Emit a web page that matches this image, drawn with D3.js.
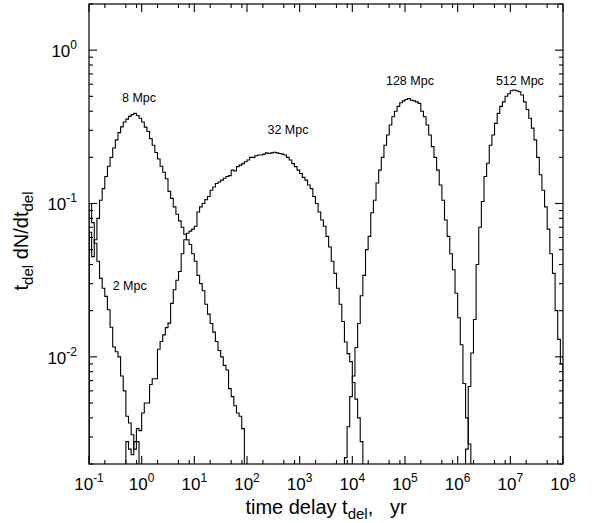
<!DOCTYPE html>
<html><head><meta charset="utf-8">
<script src="https://cdn.jsdelivr.net/npm/d3@7/dist/d3.min.js"></script>
<style>
body{margin:0;background:#fff}
svg{display:block}
text{font-family:"Liberation Sans",Arial,Helvetica,sans-serif;fill:#000}
</style>
</head><body>
<svg id="chart" width="597" height="523"></svg>
<script>
// ---- data ----
const BIN_DEX = 0.05; // histogram bin width in log10(t)
const seriesNames = ["2 Mpc", "8 Mpc", "32 Mpc", "128 Mpc", "512 Mpc"];
const seriesStartLog = [-1.0, -1.0, -0.3, 3.85, 6.15];
const vals2Mpc = [0.1, 0.075, 0.055, 0.042, 0.0325, 0.028, 0.0248, 0.0203, 0.0156, 0.0116,
  0.0108, 0.01, 0.0075, 0.006, 0.0041, 0.0037, 0.0031, 0.0025, 0.0028];
const vals8Mpc = [0.065, 0.045, 0.058, 0.08, 0.105, 0.125, 0.15, 0.175, 0.2, 0.23,
  0.26, 0.29, 0.316, 0.34, 0.355, 0.37, 0.38, 0.387, 0.375, 0.36,
  0.34, 0.315, 0.295, 0.265, 0.24, 0.215, 0.195, 0.175, 0.16, 0.145,
  0.12, 0.108, 0.095, 0.085, 0.077, 0.07, 0.063, 0.058, 0.054, 0.047,
  0.042, 0.034, 0.03, 0.027, 0.022, 0.019, 0.0165, 0.0145, 0.0126, 0.011,
  0.01, 0.0088, 0.0082, 0.0062, 0.0055, 0.0048, 0.0043, 0.0041, 0.0034];
const vals32Mpc = [0.0028, 0.0025, 0.0023, 0.0028, 0.0034, 0.0033, 0.0043, 0.005, 0.005, 0.0066,
  0.0072, 0.0072, 0.0112, 0.0126, 0.0139, 0.0155, 0.0166, 0.0223, 0.0274, 0.0316,
  0.036, 0.047, 0.058, 0.064, 0.066, 0.068, 0.071, 0.088, 0.095, 0.1,
  0.106, 0.111, 0.122, 0.128, 0.135, 0.138, 0.142, 0.146, 0.15, 0.152,
  0.165, 0.163, 0.174, 0.178, 0.182, 0.187, 0.192, 0.2, 0.2, 0.205,
  0.207, 0.207, 0.21, 0.214, 0.212, 0.214, 0.216, 0.214, 0.212, 0.21,
  0.207, 0.2, 0.192, 0.182, 0.174, 0.165, 0.157, 0.148, 0.142, 0.132,
  0.125, 0.111, 0.1, 0.088, 0.078, 0.071, 0.061, 0.052, 0.042, 0.035,
  0.028, 0.022, 0.017, 0.0125, 0.0105, 0.0093, 0.0068, 0.0053, 0.004, 0.0028];
const vals128Mpc = [0.0022, 0.0035, 0.0055, 0.0075, 0.0115, 0.0165, 0.025, 0.034, 0.05, 0.061,
  0.087, 0.105, 0.136, 0.165, 0.2, 0.24, 0.28, 0.325, 0.368, 0.4,
  0.43, 0.454, 0.467, 0.477, 0.484, 0.472, 0.467, 0.46, 0.45, 0.4,
  0.368, 0.325, 0.28, 0.235, 0.2, 0.165, 0.132, 0.105, 0.078, 0.061,
  0.047, 0.037, 0.026, 0.018, 0.012, 0.0067, 0.004, 0.0027];
const vals512Mpc = [0.0025, 0.0064, 0.0106, 0.0175, 0.04, 0.07, 0.103, 0.15, 0.183, 0.24,
  0.28, 0.333, 0.387, 0.43, 0.46, 0.5, 0.52, 0.543, 0.55, 0.543,
  0.535, 0.51, 0.46, 0.41, 0.36, 0.31, 0.26, 0.2, 0.154, 0.122,
  0.095, 0.068, 0.047, 0.035, 0.02, 0.013, 0.009];
const seriesValues = [vals2Mpc, vals8Mpc, vals32Mpc, vals128Mpc, vals512Mpc];
// label anchors in data units [t, value]
const labelAnchors = [[0.593, 0.0273], [0.89, 0.46], [600, 0.284], [1.24e5, 0.591], [1.52e7, 0.591]];
const xTickExps = [-1, 0, 1, 2, 3, 4, 5, 6, 7, 8];
const yTickExps = [-2, -1, 0];
const xMinorMult = [2, 5, 8];
const yMinorMult = [2, 3, 4, 5, 6, 7, 8, 9];
const xDomain = [0.1, 1e8];
const yDomain = [0.002, 2];

// ---- layout ----
const L = 89, R = 563, T = 4, B = 464;
const svg = d3.select("#chart");
const x = d3.scaleLog().domain(xDomain).range([L, R]);
const y = d3.scaleLog().domain(yDomain).range([B, T]);

svg.append("defs").append("clipPath").attr("id", "plotclip")
  .append("rect").attr("x", L).attr("y", T).attr("width", R - L).attr("height", B - T);

// histogram step lines
const line = d3.line().x(d => d[0]).y(d => d[1]);
const gData = svg.append("g").attr("clip-path", "url(#plotclip)");
seriesValues.forEach((vals, si) => {
  const s = seriesStartLog[si];
  const pts = [[x(10 ** s), y(yDomain[0])]];
  vals.forEach((v, i) => {
    const vy = y(Math.max(v, yDomain[0]));
    pts.push([x(10 ** (s + i * BIN_DEX)), vy]);
    pts.push([x(10 ** (s + (i + 1) * BIN_DEX)), vy]);
  });
  pts.push([x(10 ** (s + vals.length * BIN_DEX)), y(yDomain[0])]);
  gData.append("path").attr("d", line(pts))
    .attr("fill", "none").attr("stroke", "#000").attr("stroke-width", 1.1);
});

// labels
seriesNames.forEach((n, i) => {
  svg.append("text").attr("x", x(labelAnchors[i][0])).attr("y", y(labelAnchors[i][1]))
    .attr("text-anchor", "middle").attr("font-size", 12.5).text(n);
});

// frame
svg.append("rect").attr("x", L).attr("y", T).attr("width", R - L).attr("height", B - T)
  .attr("fill", "none").attr("stroke", "#000").attr("stroke-width", 1.2);

// ticks
const gT = svg.append("g").attr("stroke", "#000").attr("stroke-width", 1.1);
const MAJ = 8, MIN = 4;
xTickExps.forEach(e => {
  const xs = [[10 ** e, MAJ]];
  if (e < 8) xMinorMult.forEach(m => xs.push([m * 10 ** e, MIN]));
  xs.forEach(([v, len]) => {
    const px = x(v);
    gT.append("line").attr("x1", px).attr("x2", px).attr("y1", B).attr("y2", B - len);
    gT.append("line").attr("x1", px).attr("x2", px).attr("y1", T).attr("y2", T + len);
  });
});
[-3].concat(yTickExps).forEach(e => {
  const ys = [];
  if (e >= yTickExps[0]) ys.push([10 ** e, MAJ]);
  yMinorMult.forEach(m => ys.push([m * 10 ** e, MIN]));
  ys.forEach(([v, len]) => {
    if (v < yDomain[0] * 0.999 || v > yDomain[1] * 1.001) return;
    const py = y(v);
    gT.append("line").attr("x1", L).attr("x2", L + len).attr("y1", py).attr("y2", py);
    gT.append("line").attr("x1", R).attr("x2", R - len).attr("y1", py).attr("y2", py);
  });
});

// tick labels
xTickExps.forEach(e => {
  const t = svg.append("text").attr("x", x(10 ** e)).attr("y", 490)
    .attr("text-anchor", "middle").attr("font-size", 17);
  t.append("tspan").text("10");
  t.append("tspan").attr("dy", -8).attr("font-size", 12).text(e < 0 ? "-" + (-e) : String(e));
});
yTickExps.forEach(e => {
  const t = svg.append("text").attr("x", 77).attr("y", y(10 ** e) + 7)
    .attr("text-anchor", "end").attr("font-size", 17);
  t.append("tspan").text("10");
  t.append("tspan").attr("dy", -8).attr("font-size", 12).text(e < 0 ? "-" + (-e) : String(e));
});

// axis titles
const xt = svg.append("text").attr("x", (L + R) / 2).attr("y", 514)
  .attr("text-anchor", "middle").attr("font-size", 20).style("white-space", "pre");
xt.append("tspan").text("time delay t");
xt.append("tspan").attr("dy", 5).attr("font-size", 15).text("del");
xt.append("tspan").attr("dy", -5).text(",   yr");

const yt = svg.append("text").attr("transform", "translate(28,241) rotate(-90)")
  .attr("text-anchor", "middle").attr("font-size", 20);
yt.append("tspan").text("t");
yt.append("tspan").attr("dy", 5).attr("font-size", 15).text("del");
yt.append("tspan").attr("dy", -5).text(" dN/dt");
yt.append("tspan").attr("dy", 5).attr("font-size", 15).text("del");
</script>
</body></html>
